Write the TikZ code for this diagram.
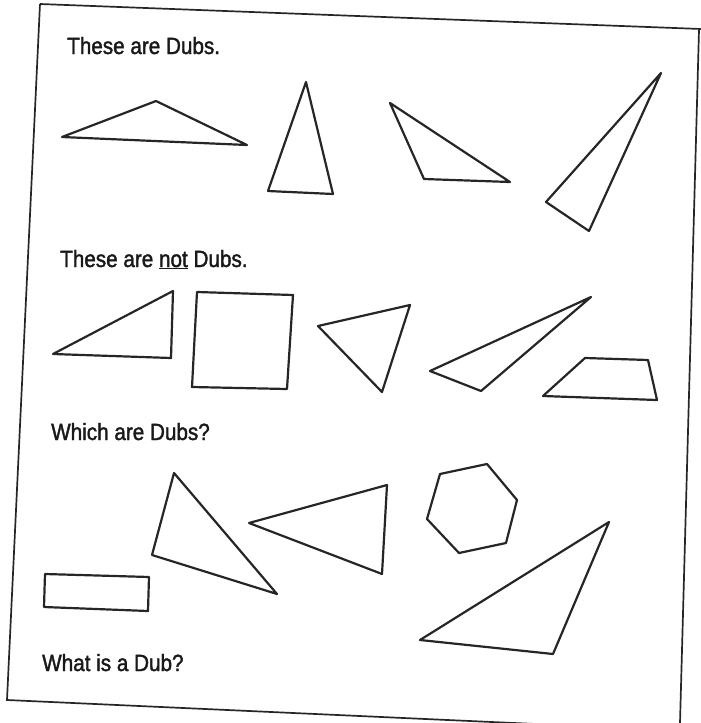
\documentclass[tikz,border=0pt]{standalone}
\usepackage{fontspec}
\setmainfont{Liberation Sans}[FakeStretch=0.88,FakeBold=1.6]
\begin{document}
\begin{tikzpicture}[x=1pt,y=-1pt,
  shp/.style={draw=black!85,line width=2.2pt,line join=round},
  frm/.style={draw=black!85,line width=1.7pt},
  lbl/.style={anchor=base west,inner sep=0pt,text=black!90,font=\fontsize{23.5}{27}\selectfont}]
\useasboundingbox (0,0) rectangle (701,723);
% frame
\coordinate (ftl) at (40,4);
\coordinate (ftr) at (701,29);
\coordinate (fbl) at (7,700);
\coordinate (fbr) at (690,731);
\coordinate (frt) at (699,30);
\coordinate (frb) at (680,723);
\draw[frm] (ftl) -- (ftr);
\draw[frm] (ftl) -- (fbl) -- (fbr);
\draw[frm] (frt) -- (frb);
% labels
\node[lbl] (t1) at (67,54) {These are Dubs.};
\node[lbl] (t2) at (60,267) {These are \underline{not} Dubs.};
\node[lbl] (t3) at (51,440) {Which are Dubs?};
\node[lbl] (t4) at (42,671) {What is a Dub?};
% row 1: Dubs
\draw[shp] (62,137) -- (156,101) -- (247,145) -- cycle;
\draw[shp] (306,82) -- (268,191) -- (333,194) -- cycle;
\draw[shp] (390,103) -- (424,179) -- (510,182) -- cycle;
\draw[shp] (661,73) -- (546,202) -- (589,231) -- cycle;
% row 2: not Dubs
\draw[shp] (53,354) -- (173,291) -- (171,358) -- cycle;
\draw[shp] (197,292) -- (293,295) -- (287,389) -- (192,387) -- cycle;
\draw[shp] (318,326) -- (410,305) -- (382,392) -- cycle;
\draw[shp] (430,371) -- (591,297) -- (481,391) -- cycle;
\draw[shp] (543,396) -- (585,358) -- (648,360) -- (657,400) -- cycle;
% row 3
\draw[shp] (174,473) -- (152,555) -- (277,594) -- cycle;
\draw[shp] (249,523) -- (387,485) -- (382,574) -- cycle;
\draw[shp] (440,474) -- (487,464) -- (517,500) -- (506,543) -- (459,553) -- (427,519) -- cycle;
\draw[shp] (45,574) -- (149,577) -- (148,611) -- (44,607) -- cycle;
\draw[shp] (609,522) -- (420,640) -- (553,654) -- cycle;
\end{tikzpicture}
\end{document}
